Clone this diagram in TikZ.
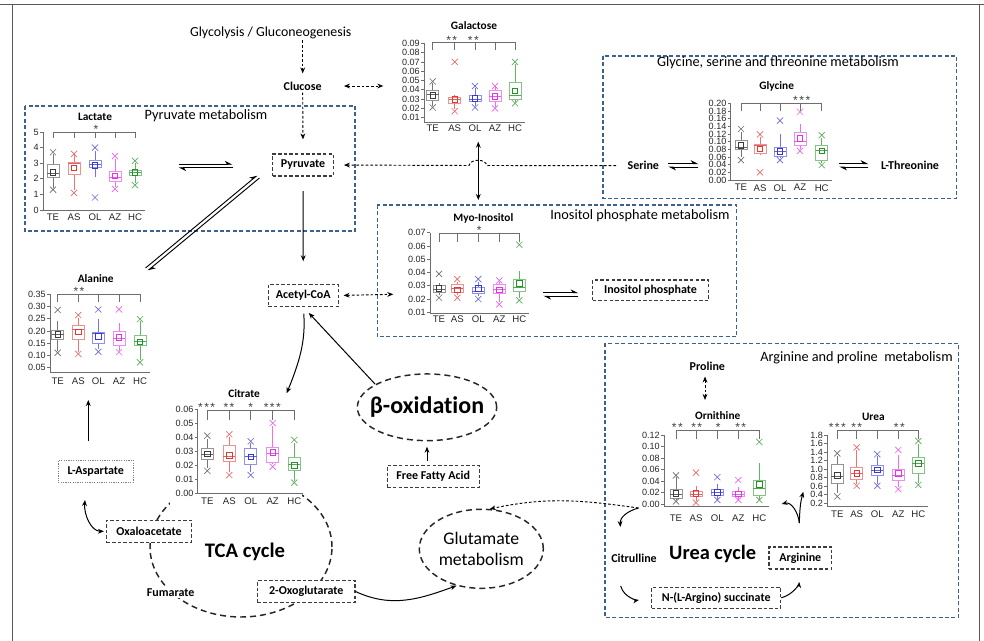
\documentclass[tikz,border=0pt]{standalone}
\usepackage{fontspec}
\setmainfont{Carlito}[Ligatures=NoCommon]
\newfontfamily\arialf{Liberation Sans}
\usetikzlibrary{arrows.meta,shapes.geometric,calc}
\definecolor{gT}{RGB}{60,60,60}
\definecolor{gA}{RGB}{226,55,55}
\definecolor{gO}{RGB}{55,55,215}
\definecolor{gZ}{RGB}{228,50,228}
\definecolor{gH}{RGB}{35,145,35}
\definecolor{pbox}{RGB}{62,96,140}
\definecolor{axc}{RGB}{110,110,110}
\definecolor{nbc}{RGB}{60,60,60}
\newcommand\stw{*\kern1.1pt*}
\newcommand\stt{*\kern1.1pt*\kern1.1pt*}
\newcommand\bxa[9]{\def\pX{#1}\def\pC{#2}\def\pXL{#3}\def\pWL{#4}\def\pQa{#5}\def\pMd{#6}\def\pQc{#7}\def\pWH{#8}\def\pXH{#9}\bxb}
\newcommand\bxb[1]{%
 \draw[draw=\pC!70,line width=0.5pt] (\pX,\pWL) -- (\pX,\pQa) (\pX,\pQc) -- (\pX,\pWH);
 \draw[draw=\pC!55,line width=0.6pt] (\pX-6,\pQa) rectangle (\pX+6,\pQc);
 \draw[draw=\pC!80,line width=0.6pt] (\pX-6,\pMd) -- (\pX+6,\pMd);
 \draw[draw=\pC,line width=0.55pt] (\pX,#1) ++(-2.1pt,-2.1pt) rectangle ++(4.2pt,4.2pt);
 \draw[draw=\pC!75,line width=0.5pt] (\pX,\pXL) ++(-2.3pt,-2.3pt) -- ++(4.6pt,4.6pt) ++(-4.6pt,0pt) -- ++(4.6pt,-4.6pt)
   (\pX,\pXH) ++(-2.3pt,-2.3pt) -- ++(4.6pt,4.6pt) ++(-4.6pt,0pt) -- ++(4.6pt,-4.6pt);
}
\newcommand\yaxis[6]{%
  \draw[axl] (#1,#3) -- (#1,#2) -- (#5,#2);
  \foreach \tva/\tlb [count=\ci] in {#4}{\draw[axl] (#1,\tva) -- ++(-2.2pt,0pt) node[tkl,anchor=east] (#6tk\ci) {\tlb};}
}
\newcommand\brk[7]{\draw[axl] (#3,#2) -- (#3,#1) -- (#7,#1) -- (#7,#2) (#4,#1) -- (#4,#2) (#5,#1) -- (#5,#2) (#6,#1) -- (#6,#2);}
\newcommand\xlabs[7]{%
 \node[xl] (#1TE) at (#3,#2) {TE}; \node[xl] (#1AS) at (#4,#2) {AS}; \node[xl] (#1OL) at (#5,#2) {OL};
 \node[xl] (#1AZ) at (#6,#2) {AZ}; \node[xl] (#1HC) at (#7,#2) {HC};}
\newcommand\revp[3]{%
 \draw[harp] ($(#1)+(#3)$) -- ($(#2)+(#3)$);
 \draw[harp] ($(#2)-(#3)$) -- ($(#1)-(#3)$);}
\begin{document}
\begin{tikzpicture}[x=0.75pt,y=-0.75pt,
  axl/.style={draw=axc,line width=0.5pt},
  tkl/.style={font=\arialf\fontsize{6.8}{7}\selectfont,inner sep=0.8pt,text=black!85},
  xl/.style={font=\arialf\fontsize{7.2}{7.5}\selectfont,inner sep=0pt,text=black!85},
  stars/.style={font=\arialf\fontsize{9}{9}\selectfont,inner sep=0pt,text=black!75,yshift=-1.8pt},
  ptitle/.style={font=\bfseries\fontsize{8.5}{9}\selectfont,inner sep=0pt},
  pwt/.style={font=\fontsize{10.7}{12}\selectfont,inner sep=0pt},
  pbx/.style={draw=pbox,dash pattern=on 3pt off 1.8pt,line width=1.1pt},
  nbox/.style={draw=nbc,dash pattern=on 2.6pt off 1.6pt,line width=0.85pt,fill=white,
     font=\bfseries\fontsize{9}{10}\selectfont,minimum height=16.5pt,inner sep=2pt},
  aspbox/.style={draw=gray,dash pattern=on 0.9pt off 0.9pt,line width=0.7pt},
  lbl/.style={font=\bfseries\fontsize{9}{10}\selectfont,inner sep=1.5pt},
  ell/.style={draw=black!85,dash pattern=on 4.5pt off 3pt,line width=1.1pt},
  sarr/.style={-{Stealth[length=4.5pt,width=3.6pt]},line width=0.75pt,black},
  sarrb/.style={{Stealth[length=4.5pt,width=3.6pt]}-{Stealth[length=4.5pt,width=3.6pt]},line width=0.75pt,black},
  darr/.style={sarr,dash pattern=on 2pt off 1.5pt,line width=0.7pt},
  ddarr/.style={sarrb,dash pattern=on 2pt off 1.5pt,line width=0.7pt},
  harp/.style={-{Stealth[harpoon,length=5pt,width=5pt]},line width=0.7pt,black}]
\useasboundingbox (0,0) rectangle (984,641);
% frame
\draw[draw=black!65,line width=1.3pt] (0,4.5) -- (984,4.5);
\draw[draw=black!65,line width=1.3pt] (12.5,4.5) -- (12.5,641);
\draw[draw=black!65,line width=1.3pt] (979.5,4.5) -- (979.5,641);
% pathway boxes
\draw[pbx] (25,106) rectangle (355,231);
\draw[pbx] (603,56) rectangle (956.7,198.3);
\draw[pbx] (377.3,205) rectangle (736.7,336.7);
\draw[pbx] (605,343.3) rectangle (958.3,617.7);
\node[pwt] (tpyr) at (206,115.7) {Pyruvate metabolism};
\node[pwt] (tgly) at (778,62.7) {Glycine, serine and threonine metabolism};
\node[pwt] (tino) at (640,215.7) {Inositol phosphate metabolism};
\node[pwt] (targ) at (856.5,357.3) {Arginine and proline\ \ metabolism};
% TCA cycle
\draw[ell] (241,547) ellipse [x radius=68.25pt, y radius=52.5pt];
\fill[white] (170,386) rectangle (302,506);
\node[font=\bfseries\fontsize{15.5}{16}\selectfont] (tca) at (245,551.7) {TCA cycle};
\node[font=\bfseries\fontsize{15.3}{16}\selectfont] (ucy) at (712.7,554.3) {Urea cycle};
\node[ell,ellipse,minimum width=104.5pt,minimum height=50pt,inner sep=0pt,
  label={[font=\bfseries\fontsize{18}{18}\selectfont]center:β-oxidation}] (box) at (427,407.3) {};
\node[ell,ellipse,minimum width=93pt,minimum height=59.25pt,inner sep=0pt,
  label={[font=\fontsize{13.3}{15.8}\selectfont,align=center]center:Glutamate\\metabolism}] (glu) at (481.3,548.8) {};
\node[font=\fontsize{10.4}{11}\selectfont,inner sep=1pt] (glyc) at (270.7,32.7) {Glycolysis / Gluconeogenesis};
% ---------- Lactate
\node[ptitle] (tLac) at (95,117) {Lactate};
\brk{132}{138}{53}{74}{95}{115}{135}
\node[stars] (sLac) at (96,127) {*};
\xlabs{lac}{217}{53}{74}{95}{115}{135}
\begin{scope}[shift={(0,210)},y={(0pt,11.7pt)}]
 \yaxis{43}{0}{5}{0/0,1/1,2/2,3/3,4/4,5/5}{145}{lac}
 \bxa{53}{gT}{1.3}{1.4}{2.1}{2.35}{2.9}{3.6}{3.7}{2.4}
 \bxa{74}{gA}{1.1}{1.3}{2.3}{3.0}{3.05}{3.5}{3.6}{2.7}
 \bxa{95}{gO}{0.8}{2.1}{2.7}{2.9}{3.15}{3.75}{4.0}{2.85}
 \bxa{115}{gZ}{1.35}{1.5}{1.85}{2.1}{2.5}{3.3}{3.45}{2.2}
 \bxa{135}{gH}{1.6}{1.7}{2.2}{2.4}{2.55}{3.0}{3.15}{2.4}
\end{scope}
% ---------- Galactose
\node[ptitle] (tGal) at (474,26) {Galactose};
\brk{42.3}{50}{432.7}{454.7}{475}{495}{515}
\node[stars] (sGal1) at (451.7,38) {\stw};
\node[stars] (sGal2) at (473.3,38) {\stw};
\xlabs{gal}{128}{432.7}{454.7}{475}{495}{515}
\begin{scope}[shift={(0,127)},y={(0pt,697.5pt)}]
 \yaxis{424}{0.0055}{0.09}{0.01/0.01,0.02/0.02,0.03/0.03,0.04/0.04,0.05/0.05,0.06/0.06,0.07/0.07,0.08/0.08,0.09/0.09}{525}{gal}
 \bxa{432.7}{gT}{0.021}{0.023}{0.029}{0.035}{0.039}{0.047}{0.049}{0.034}
 \bxa{454.7}{gA}{0.017}{0.019}{0.0255}{0.030}{0.032}{0.034}{0.070}{0.030}
 \bxa{475}{gO}{0.021}{0.023}{0.027}{0.030}{0.034}{0.042}{0.044}{0.031}
 \bxa{495}{gZ}{0.020}{0.022}{0.028}{0.033}{0.039}{0.043}{0.044}{0.033}
 \bxa{515}{gH}{0.0255}{0.027}{0.030}{0.034}{0.048}{0.068}{0.070}{0.039}
\end{scope}
% ---------- Glycine
\node[ptitle] (tGly) at (776.7,86) {Glycine};
\brk{103.3}{110.7}{741}{760}{780}{800}{821.7}
\node[stars] (sGly) at (801.7,97.7) {\stt};
\xlabs{gly}{187.7}{741}{760}{780}{800}{821.7}
\begin{scope}[shift={(0,180)},y={(0pt,287.6pt)}]
 \yaxis{730.7}{0}{0.2}{0/0.00,0.02/0.02,0.04/0.04,0.06/0.06,0.08/0.08,0.1/0.10,0.12/0.12,0.14/0.14,0.16/0.16,0.18/0.18,0.2/0.20}{832}{gly}
 \bxa{741}{gT}{0.052}{0.06}{0.080}{0.085}{0.103}{0.125}{0.133}{0.091}
 \bxa{760}{gA}{0.020}{0.065}{0.070}{0.091}{0.094}{0.112}{0.119}{0.081}
 \bxa{780}{gO}{0.052}{0.058}{0.061}{0.074}{0.085}{0.119}{0.155}{0.074}
 \bxa{800}{gZ}{0.076}{0.08}{0.089}{0.100}{0.123}{0.146}{0.178}{0.109}
 \bxa{821.7}{gH}{0.039}{0.045}{0.050}{0.076}{0.091}{0.11}{0.117}{0.076}
\end{scope}
% ---------- Myo-Inositol
\node[ptitle] (tMyo) at (483.3,218.3) {Myo-Inositol};
\brk{233.3}{241.7}{439}{457.3}{478.3}{499.3}{519.3}
\node[stars] (sMyo) at (479.3,228.3) {*};
\xlabs{myo}{319.3}{439}{457.3}{478.3}{499.3}{519.3}
\begin{scope}[shift={(0,325.6)},y={(0pt,995pt)}]
 \yaxis{430}{0.009}{0.07}{0.01/0.01,0.02/0.02,0.03/0.03,0.04/0.04,0.05/0.05,0.06/0.06,0.07/0.07}{529}{myo}
 \bxa{439}{gT}{0.021}{0.023}{0.025}{0.027}{0.030}{0.032}{0.039}{0.028}
 \bxa{457.3}{gA}{0.021}{0.023}{0.025}{0.028}{0.031}{0.033}{0.035}{0.027}
 \bxa{478.3}{gO}{0.020}{0.022}{0.024}{0.026}{0.029}{0.033}{0.035}{0.028}
 \bxa{499.3}{gZ}{0.016}{0.018}{0.024}{0.027}{0.031}{0.033}{0.034}{0.027}
 \bxa{519.3}{gH}{0.019}{0.021}{0.026}{0.029}{0.035}{0.041}{0.061}{0.032}
\end{scope}
% ---------- Alanine
\node[ptitle] (tAla) at (95.7,278.3) {Alanine};
\brk{294.3}{301.7}{57.7}{78.3}{98.3}{119}{140}
\node[stars] (sAla) at (79,289.3) {\stw};
\xlabs{ala}{381}{57.7}{78.3}{98.3}{119}{140}
\begin{scope}[shift={(0,379.9)},y={(0pt,183.5pt)}]
 \yaxis{50}{0.03}{0.35}{0.05/0.05,0.1/0.10,0.15/0.15,0.2/0.20,0.25/0.25,0.3/0.30,0.35/0.35}{150}{ala}
 \bxa{57.7}{gT}{0.111}{0.12}{0.166}{0.188}{0.204}{0.242}{0.286}{0.186}
 \bxa{78.3}{gA}{0.106}{0.115}{0.166}{0.207}{0.224}{0.255}{0.265}{0.197}
 \bxa{98.3}{gO}{0.115}{0.125}{0.149}{0.19}{0.193}{0.248}{0.288}{0.177}
 \bxa{119}{gZ}{0.113}{0.12}{0.143}{0.17}{0.197}{0.234}{0.288}{0.174}
 \bxa{140}{gH}{0.072}{0.08}{0.143}{0.156}{0.183}{0.24}{0.248}{0.156}
\end{scope}
% ---------- Citrate
\node[ptitle] (tCit) at (244,393.3) {Citrate};
\brk{410}{420}{207.3}{229.3}{250.7}{272.7}{294.3}
\node[stars] (sCit1) at (206.7,405) {\stt};
\node[stars] (sCit2) at (229,405) {\stw};
\node[stars] (sCit3) at (250.7,405) {*};
\node[stars] (sCit4) at (272.3,405) {\stt};
\xlabs{cit}{501}{207.3}{229.3}{250.7}{272.7}{294.3}
\begin{scope}[shift={(0,493.3)},y={(0pt,1053.75pt)}]
 \yaxis{197.7}{0}{0.06}{0/0.00,0.01/0.01,0.02/0.02,0.03/0.03,0.04/0.04,0.05/0.05,0.06/0.06}{303}{cit}
 \bxa{207.3}{gT}{0.016}{0.018}{0.024}{0.028}{0.032}{0.039}{0.041}{0.028}
 \bxa{229.3}{gA}{0.013}{0.015}{0.0225}{0.026}{0.034}{0.040}{0.042}{0.027}
 \bxa{250.7}{gO}{0.013}{0.015}{0.0206}{0.026}{0.032}{0.036}{0.037}{0.026}
 \bxa{272.7}{gZ}{0.019}{0.021}{0.022}{0.0285}{0.033}{0.048}{0.050}{0.029}
 \bxa{294.3}{gH}{0.0076}{0.009}{0.016}{0.0206}{0.0256}{0.036}{0.038}{0.020}
\end{scope}
% ---------- Ornithine
\node[ptitle] (tOrn) at (717.7,416) {Ornithine};
\brk{430}{439.3}{676}{696}{717.3}{738.3}{759.3}
\node[stars] (sOrn1) at (677.3,425) {\stw};
\node[stars] (sOrn2) at (696.7,425) {\stw};
\node[stars] (sOrn3) at (718.3,425) {*};
\node[stars] (sOrn4) at (740.7,425) {\stw};
\xlabs{orn}{517.7}{676}{696}{717.3}{738.3}{759.3}
\begin{scope}[shift={(0,504.3)},y={(0pt,433.1pt)}]
 \yaxis{664}{-0.004}{0.12}{0/0.00,0.02/0.02,0.04/0.04,0.06/0.06,0.08/0.08,0.1/0.10,0.12/0.12}{769}{orn}
 \bxa{676}{gT}{0.005}{0.007}{0.010}{0.018}{0.0265}{0.048}{0.050}{0.019}
 \bxa{696}{gA}{0.003}{0.006}{0.013}{0.018}{0.022}{0.031}{0.055}{0.019}
 \bxa{717.3}{gO}{0.0075}{0.009}{0.015}{0.020}{0.025}{0.036}{0.047}{0.021}
 \bxa{738.3}{gZ}{0.0075}{0.009}{0.013}{0.018}{0.022}{0.030}{0.042}{0.018}
 \bxa{759.3}{gH}{0.0075}{0.009}{0.016}{0.028}{0.042}{0.071}{0.108}{0.035}
\end{scope}
% ---------- Urea
\node[ptitle] (tUre) at (873.3,416.7) {Urea};
\brk{430}{439.3}{837.3}{856.7}{877.3}{898.3}{918.3}
\node[stars] (sUre1) at (837.3,425) {\stt};
\node[stars] (sUre2) at (856.7,425) {\stw};
\node[stars] (sUre3) at (899.3,425) {\stw};
\xlabs{ure}{514.3}{837.3}{856.7}{877.3}{898.3}{918.3}
\begin{scope}[shift={(0,511.8)},y={(0pt,32pt)}]
 \yaxis{827.3}{0.12}{1.8}{0.2/0.2,0.4/0.4,0.6/0.6,0.8/0.8,1.0/1.0,1.2/1.2,1.4/1.4,1.6/1.6,1.8/1.8}{928}{ure}
 \bxa{837.3}{gT}{0.36}{0.45}{0.67}{0.83}{1.12}{1.30}{1.37}{0.86}
 \bxa{856.7}{gA}{0.61}{0.65}{0.76}{0.89}{1.04}{1.45}{1.51}{0.9}
 \bxa{877.3}{gO}{0.61}{0.65}{0.85}{0.96}{1.08}{1.30}{1.35}{0.98}
 \bxa{898.3}{gZ}{0.53}{0.58}{0.73}{0.86}{1.0}{1.33}{1.45}{0.9}
 \bxa{918.3}{gH}{0.63}{0.68}{0.89}{1.14}{1.28}{1.60}{1.66}{1.14}
\end{scope}
% ---------- nodes
\node[nbox,minimum width=45.5pt] (pyr) at (303,165) {Pyruvate};
\node[nbox,minimum width=52.5pt] (acc) at (303.3,295.5) {Acetyl-CoA};
\node[nbox,minimum width=86.7pt,minimum height=15.5pt] (insp) at (650.5,290.3) {Inositol phosphate};
\node[nbox,aspbox,minimum width=56.3pt] (lasp) at (95.8,471.3) {L-Aspartate};
\node[nbox,minimum width=63.8pt] (oxa) at (149,531.3) {Oxaloacetate};
\node[nbox,minimum width=73pt] (oxo) at (306.3,591.5) {2-Oxoglutarate};
\node[nbox,minimum width=68.8pt] (ffa) at (433.2,476.3) {Free Fatty Acid};
\node[nbox,minimum width=47pt] (arg) at (800.3,558) {Arginine};
\node[nbox,minimum width=96.8pt,minimum height=15.8pt] (nas) at (716.2,597.8) {N-(L-Argino) succinate};
\node[lbl] (clu) at (302.7,86) {Clucose};
\node[lbl] (ser) at (643.3,165.7) {Serine};
\node[lbl] (thr) at (910,165.7) {L-Threonine};
\node[lbl] (pro) at (707.3,366) {Proline};
\node[lbl] (citr) at (634,558.3) {Citrulline};
\node[lbl,fill=white] (fum) at (170.7,592.3) {Fumarate};
% ---------- coordinates for plot ends
\coordinate (galL) at (383.3,86);
\coordinate (lacR) at (178.5,166);
\coordinate (pyrL) at (232.5,166);
\coordinate (alaTR) at (146.7,269.3);
\coordinate (pyrBL) at (258.3,176.7);
\coordinate (serR) at (668.3,165.3);
\coordinate (glyL) at (698.3,165.3);
\coordinate (glyR) at (839.3,165.3);
\coordinate (thrL) at (868.3,165.3);
\coordinate (galB) at (478.3,141.7);
\coordinate (myoT) at (478.3,200);
\coordinate (myoL) at (393.3,294.3);
\coordinate (myoR) at (543.3,294.5);
\coordinate (inspL) at (578.3,294.5);
\coordinate (citT) at (286.7,393.3);
\coordinate (alaB) at (88.3,400);
\coordinate (aspB) at (85,500);
\coordinate (ornBL) at (638.5,508);
\coordinate (ornT) at (705,400);
\coordinate (u1) at (620.5,527);
\coordinate (u2) at (620.7,586);
\coordinate (u5) at (799.3,523);
\coordinate (u6) at (781.7,504);
\coordinate (u7) at (803.3,491.7);
% ---------- connectors
\draw[darr,shorten >=4.5pt] (clu |- glyc.south) -- (clu.north);
\draw[darr,shorten >=10.5pt] (clu.south) -- (pyr.north);
\draw[ddarr,shorten <=15pt] (clu.east) -- (galL);
\draw[sarr,shorten <=11pt,shorten >=17pt] (pyr.south) -- (acc.north);
\revp{lacR}{pyrL}{0pt,1.3pt}
\revp{alaTR}{pyrBL}{-0.83pt,1pt}
\revp{serR}{glyL}{0pt,1.3pt}
\revp{glyR}{thrL}{0pt,1.3pt}
\revp{myoR}{inspL}{0pt,1.3pt}
\draw[darr,shorten <=7pt,shorten >=7.5pt] (ser.west) -- (487,165.5) .. controls (485.5,158.5) and (470.5,158.5) .. (469,165.5) -- (pyr.east);
\draw[sarrb] (galB) -- (myoT);
\draw[ddarr,shorten <=3.5pt] (acc.east) -- (myoL);
\draw[sarr,shorten >=6pt] (box.156) -- (acc.south);
\draw[sarr,shorten <=5pt] (acc.south) to[out=-86,in=68] (citT);
\draw[sarr,shorten <=2.5pt,shorten >=4pt] (ffa.north -| box) -- (box.south);
\draw[sarr,shorten <=14.25pt] (lasp.north -| alaB) -- (alaB);
\draw[sarrb,shorten >=1.5pt] (aspB) to[out=-95,in=180] (oxa.west);
\draw[sarr] (oxo.east) to[out=-25,in=200] (glu.236);
\draw[darr] (ornBL) to[out=172,in=12] (glu.78);
\draw[ddarr,shorten <=3pt] (pro.south -| ornT) -- (ornT);
\draw[sarr] (ornBL) to[out=195,in=95] (u1);
\draw[sarr,shorten >=9.3pt] (u2) to[out=-75,in=190] (nas.west);
\draw[sarr,shorten >=9.3pt] (nas.east) to[out=15,in=-95] (arg.south);
\draw[sarr] (u5) to[out=95,in=15] (u6);
\draw[sarr] (u5) to[out=88,in=-105] (u7);
\end{tikzpicture}
\end{document}
